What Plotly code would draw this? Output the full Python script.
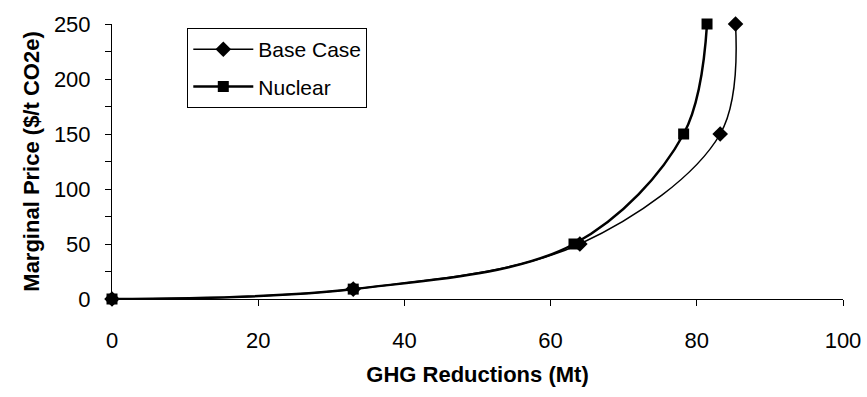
import plotly.graph_objects as go

base_x = [0, 33, 64, 83.2, 85.3]
base_y = [0, 9, 50, 150, 250]
nuc_x = [0, 33, 63.2, 78.2, 81.4]
nuc_y = [0, 9, 50, 150, 250]

x_ticks = [0, 20, 40, 60, 80, 100]
y_ticks = [0, 50, 100, 150, 200, 250]

fig = go.Figure()
fig.add_trace(go.Scatter(
    x=base_x, y=base_y, name="Base Case", mode="lines+markers", legendgroup="a",
    line=dict(color="black", width=1.5, shape="spline", smoothing=1),
    marker=dict(symbol="diamond", size=12, color="black"),
    cliponaxis=False,
))
fig.add_trace(go.Scatter(
    x=nuc_x, y=nuc_y, name="Nuclear", mode="lines+markers", legendgroup="b",
    line=dict(color="black", width=2.5, shape="spline", smoothing=1),
    marker=dict(symbol="square", size=11, color="black"),
    cliponaxis=False,
))

fig.update_layout(
    width=867, height=397,
    margin=dict(l=112, r=24, t=24, b=98),
    paper_bgcolor="white", plot_bgcolor="white",
    font=dict(family="Liberation Sans, Arial", size=22, color="black"),
    showlegend=True,
    legend=dict(x=0.103, y=0.985, xanchor="left", yanchor="top",
                bordercolor="black", borderwidth=1, bgcolor="white",
                font=dict(size=21), tracegroupgap=7, itemwidth=60),
)
fig.update_xaxes(
    range=[0, 100], tickvals=x_ticks, ticktext=[str(v) for v in x_ticks],
    showline=True, linecolor="black", linewidth=1, automargin=False,
    ticks="outside", ticklen=6, tickcolor="black", ticklabelstandoff=16,
    showgrid=False, zeroline=False,
    title=dict(text="<b>GHG Reductions (Mt)</b>", font=dict(size=22), standoff=14),
)
fig.update_yaxes(
    range=[0, 250], tickvals=y_ticks, ticktext=[str(v) for v in y_ticks],
    showline=True, linecolor="black", linewidth=1, automargin=False,
    ticks="outside", ticklen=6, tickcolor="black", ticklabelstandoff=10,
    minor=dict(dtick=25, ticks="outside", ticklen=6, tickcolor="black"),
    showgrid=False, zeroline=False,
    title=dict(text="<b>Marginal Price ($/t CO2e)</b>", font=dict(size=22), standoff=8),
)

fig.write_html("out.html")
